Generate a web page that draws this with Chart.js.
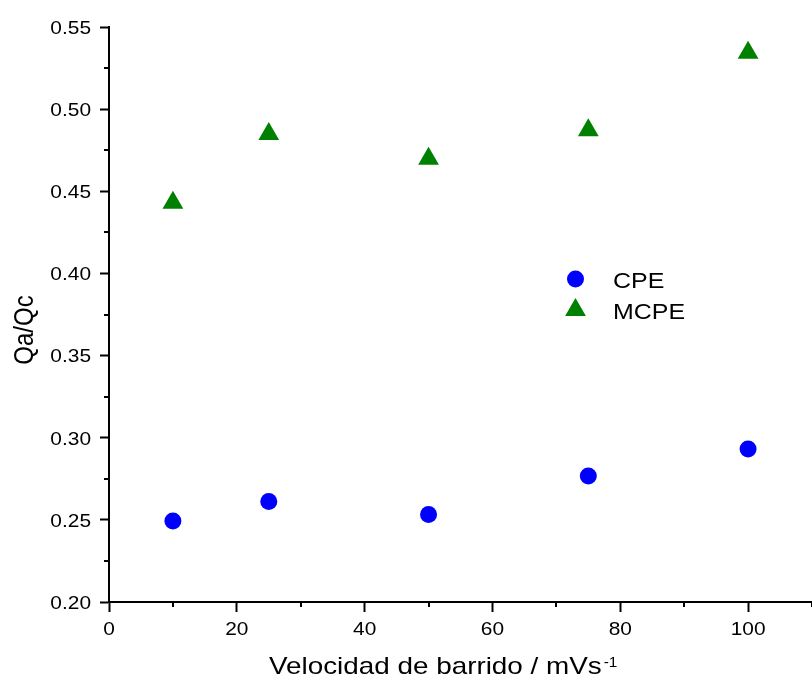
<!DOCTYPE html>
<html>
<head>
<meta charset="utf-8">
<script src="https://cdn.jsdelivr.net/npm/chart.js@4/dist/chart.umd.min.js"></script>
<style>
    html, body { margin: 0; padding: 0; background: #ffffff; overflow: hidden; }
    #wrap { position: relative; width: 812px; height: 685px; }
</style>
</head>
<body>
<div id="wrap"><canvas id="qaChart"></canvas></div>
<script>
/** ---------- data ---------- */
const scanRates = [10, 25, 50, 75, 100];
const cpeValues = [0.2493, 0.2612, 0.2533, 0.2767, 0.2932];
const mcpeValues = [0.4430, 0.4849, 0.4698, 0.4871, 0.5344];
const seriesNames = ['CPE', 'MCPE'];
const xTickLabels = ['0', '20', '40', '60', '80', '100'];
const yTickLabels = ['0.20', '0.25', '0.30', '0.35', '0.40', '0.45', '0.50', '0.55'];
const xTitle = 'Velocidad de barrido / mVs';
const xTitleSup = '-1';
const yTitle = 'Qa/Qc';

const FONT = '"Liberation Sans", Arial, sans-serif';

function toPoints(xs, ys) {
    return xs.map((x, i) => ({x: x, y: ys[i]}));
}

// text drawn a little wider than normal, anchored by its left/center/right edge
function wideText(ctx, text, x, y, size, stretch, align) {
    ctx.save();
    ctx.font = size + 'px ' + FONT;
    const w = ctx.measureText(text).width * stretch;
    let left = x;
    if (align === 'center') left = x - w / 2;
    if (align === 'right') left = x - w;
    ctx.translate(left, y);
    ctx.scale(stretch, 1);
    ctx.textAlign = 'left';
    ctx.textBaseline = 'alphabetic';
    ctx.fillText(text, 0, 0);
    ctx.restore();
    return w;
}

// minor ticks, tick labels, axis titles and the in-plot legend
const extrasPlugin = {
    id: 'extras',
    afterDraw(chart) {
        const ctx = chart.ctx;
        const xs = chart.scales.x;
        const ys = chart.scales.y;
        const area = chart.chartArea;

        ctx.save();
        ctx.strokeStyle = '#000';
        ctx.lineWidth = 2;
        ctx.beginPath();
        for (let v = 10; v <= 110; v += 20) {
            const px = Math.round(xs.getPixelForValue(v));
            ctx.moveTo(px, area.bottom);
            ctx.lineTo(px, area.bottom + 5);
        }
        for (let v = 0.225; v < 0.55; v += 0.05) {
            const py = Math.round(ys.getPixelForValue(v));
            ctx.moveTo(area.left, py);
            ctx.lineTo(area.left - 5, py);
        }
        ctx.stroke();

        ctx.fillStyle = '#000';
        xTickLabels.forEach(t => {
            wideText(ctx, t, xs.getPixelForValue(Number(t)), 635, 19, 1.1, 'center');
        });
        yTickLabels.forEach(t => {
            wideText(ctx, t, 91, ys.getPixelForValue(Number(t)) + 6.8, 19, 1.1, 'right');
        });

        // x title with superscript
        const mainW = wideText(ctx, xTitle, 269, 674, 24, 1.16, 'left');
        wideText(ctx, xTitleSup, 269 + mainW + 2, 667, 14, 1.1, 'left');

        // y title, rotated
        ctx.save();
        ctx.translate(33, 330);
        ctx.rotate(-Math.PI / 2);
        ctx.scale(1, 1.12);
        ctx.font = '24px ' + FONT;
        ctx.textAlign = 'center';
        ctx.textBaseline = 'alphabetic';
        ctx.fillText(yTitle, 0, 0);
        ctx.restore();

        // legend inside the plot
        const rows = [
            {mark: 279, text: 287.5, ds: chart.data.datasets[0]},
            {mark: 310, text: 319, ds: chart.data.datasets[1]}
        ];
        rows.forEach(r => {
            ctx.fillStyle = r.ds.backgroundColor;
            Chart.helpers.drawPoint(ctx, {
                pointStyle: r.ds.pointStyle,
                radius: r.ds.pointRadius,
                borderWidth: 0
            }, 575.5, r.mark);
            ctx.fillStyle = '#000';
            wideText(ctx, r.ds.label, 613, r.text, 21.5, 1.16, 'left');
        });
        ctx.restore();
    }
};

const ctx = document.getElementById('qaChart').getContext('2d');
const qaChart = new Chart(ctx, {
    type: 'scatter',
    data: {
        datasets: [
            {
                label: seriesNames[0],
                data: toPoints(scanRates, cpeValues),
                pointStyle: 'circle',
                pointRadius: 8.5,
                pointHoverRadius: 8.5,
                backgroundColor: '#0000ff',
                borderColor: '#0000ff',
                borderWidth: 0
            },
            {
                label: seriesNames[1],
                data: toPoints(scanRates, mcpeValues),
                pointStyle: 'triangle',
                pointRadius: 12,
                pointHoverRadius: 12,
                backgroundColor: '#008000',
                borderColor: '#008000',
                borderWidth: 0
            }
        ]
    },
    options: {
        responsive: true,
        maintainAspectRatio: false,
        animation: false,
        events: [],
        layout: {autoPadding: false, padding: {top: 27, left: 0, right: 0, bottom: 0}},
        plugins: {
            legend: {display: false},
            tooltip: {enabled: false}
        },
        scales: {
            x: {
                type: 'linear',
                min: 0,
                max: 110,
                border: {display: true, color: '#000', width: 2},
                grid: {drawOnChartArea: false, tickLength: 10, tickWidth: 2, tickColor: '#000'},
                ticks: {
                    stepSize: 20,
                    includeBounds: false,
                    color: 'rgba(0,0,0,0)',
                    maxRotation: 0,
                    font: {family: FONT, size: 18}
                },
                afterFit(scale) {
                    scale.height = 83;
                    scale.paddingLeft = 0;
                    scale.paddingRight = 0;
                }
            },
            y: {
                type: 'linear',
                min: 0.20,
                max: 0.55,
                border: {display: true, color: '#000', width: 2},
                grid: {drawOnChartArea: false, tickLength: 9, tickWidth: 2, tickColor: '#000'},
                ticks: {
                    stepSize: 0.05,
                    color: 'rgba(0,0,0,0)',
                    font: {family: FONT, size: 18}
                },
                afterFit(scale) {
                    scale.width = 109;
                    scale.paddingTop = 0;
                    scale.paddingBottom = 0;
                }
            }
        }
    },
    plugins: [extrasPlugin]
});
</script>
</body>
</html>
